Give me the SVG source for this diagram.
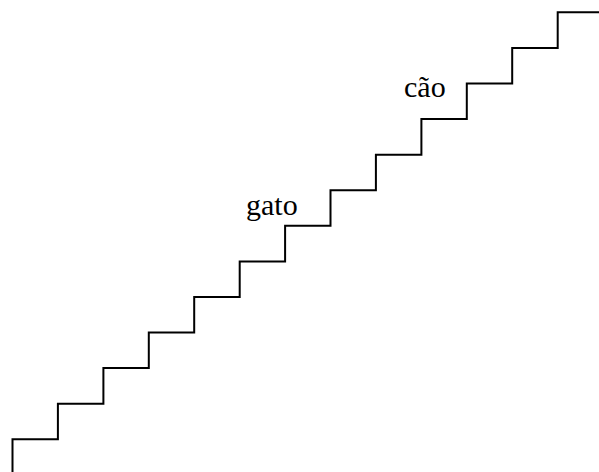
<svg xmlns="http://www.w3.org/2000/svg" width="599" height="472" viewBox="0 0 599 472">
<style>
.stair{fill:none;stroke:#000;stroke-width:2;stroke-linejoin:miter}
.lbl{font-family:"Liberation Serif","Times New Roman",serif;font-size:30px;fill:#000}
</style>
<rect width="599" height="472" fill="#fff"/>
<g id="connectors">
<path class="stair" d="M12.5 472 V439.3 H57.9 V403.7 H103.4 V368.1 H148.8 V332.6 H194.2 V297.0 H239.7 V261.4 H285.1 V225.8 H330.5 V190.2 H375.9 V154.7 H421.4 V119.1 H466.8 V83.5 H512.2 V47.9 H557.7 V12.3 H599"/>
</g>
<g id="label-gato"><text class="lbl" x="246" y="215">gato</text></g>
<g id="label-cao"><text class="lbl" x="404" y="97">cão</text></g>
</svg>
